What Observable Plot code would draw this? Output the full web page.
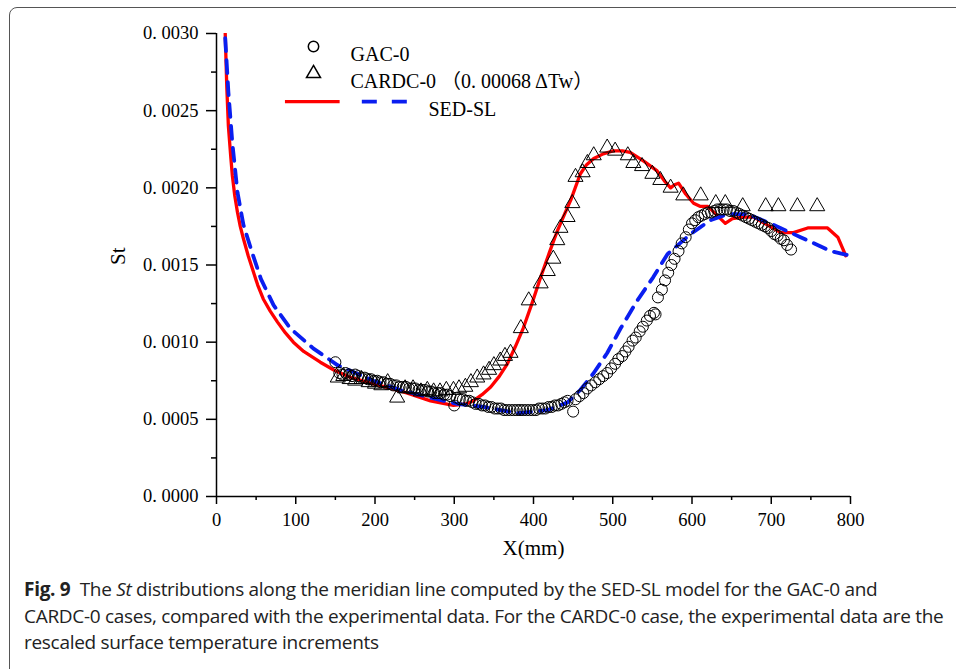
<!DOCTYPE html>
<html>
<head>
<meta charset="utf-8">
<script src="https://cdn.jsdelivr.net/npm/d3@7"></script>
<script src="https://cdn.jsdelivr.net/npm/@observablehq/plot@0.6"></script>
<style>
  html, body { margin: 0; padding: 0; background: #fff; width: 956px; height: 669px; overflow: hidden; }
  #frame { position: absolute; left: 9px; top: 7px; width: 1100px; height: 800px; border: 1.3px solid #555; border-radius: 8px; box-sizing: border-box; }
  #chart { position: absolute; left: 0; top: 0; }
  #chart svg g[aria-label="x-axis tick label"] text,
  #chart svg g[aria-label="y-axis tick label"] text { font-size: 18.5px !important; font-family: 'Liberation Serif', serif !important; }
  #caption { position: absolute; left: 24px; top: 576px; font-family: "Open Sans", sans-serif; font-size: 19px; line-height: 26.5px; color: #222; white-space: nowrap; letter-spacing: -0.3px; }
  #caption b { font-weight: 700; }
</style>
</head>
<body>
<div id="frame"></div>
<div id="chart"></div>
<div id="caption"><b>Fig. 9</b>&nbsp; The <i>St</i> distributions along the meridian line computed by the SED-SL model for the GAC-0 and<br>CARDC-0 cases, compared with the experimental data. For the CARDC-0 case, the experimental data are the<br>rescaled surface temperature increments</div>
<script>
// ---- Data ----
const xMajor = [0, 100, 200, 300, 400, 500, 600, 700, 800];
const xMinor = [50, 150, 250, 350, 450, 550, 650, 750];
const yMajor = [0, 0.0005, 0.001, 0.0015, 0.002, 0.0025, 0.003];
const yMinor = [0.00025, 0.00075, 0.00125, 0.00175, 0.00225, 0.00275];

// GAC-0 experimental (circles)
const gacX = [150,155,159,163,167,171,175,179,183,187,191,195,199,203,207,211,215,219,223,227,231,235,239,243,247,251,255,259,263,267,271,275,279,283,287,291,295,300,303,307,311,315,319,323,327,331,335,339,343,347,351,355,359,363,367,371,375,379,383,387,391,395,399,403,407,411,415,419,423,427,431,435,439,443,450,453,458,463,468,473,478,483,488,493,498,503,507,512,516,520,525,529,534,538,543,547,552,554,557,562,566,570,574,578,583,587,592,596,600,604,608,612,616,620,624,628,632,636,640,644,648,652,656,660,664,668,672,676,680,684,688,692,696,700,704,708,712,716,720,725];
const gacSt = [0.00087,0.00080,0.00079,0.00080,0.00079,0.00078,0.00079,0.00078,0.00077,0.00077,0.00076,0.00076,0.00075,0.00075,0.00074,0.00074,0.00073,0.00073,0.00072,0.00072,0.00071,0.00071,0.00071,0.00070,0.00070,0.00070,0.00069,0.00069,0.00069,0.00068,0.00068,0.00067,0.00067,0.00067,0.00066,0.00066,0.00065,0.00059,0.00064,0.00063,0.00063,0.00062,0.00062,0.00061,0.00060,0.00060,0.00059,0.00059,0.00058,0.00058,0.00057,0.00057,0.00057,0.00056,0.00056,0.00056,0.00056,0.00056,0.00056,0.00056,0.00056,0.00056,0.00056,0.00056,0.00057,0.00057,0.00057,0.00058,0.00058,0.00059,0.00059,0.00060,0.00061,0.00062,0.00055,0.00063,0.00065,0.00067,0.00070,0.00072,0.00074,0.00076,0.00078,0.00080,0.00083,0.00086,0.00089,0.00091,0.00094,0.00097,0.00101,0.00103,0.00107,0.00110,0.00114,0.00117,0.00119,0.00118,0.00129,0.00134,0.00140,0.00145,0.00150,0.00154,0.00159,0.00164,0.00168,0.00173,0.00177,0.00179,0.00181,0.00182,0.00183,0.00184,0.00184,0.00185,0.00186,0.00186,0.00186,0.00186,0.00185,0.00185,0.00184,0.00183,0.00182,0.00181,0.00180,0.00179,0.00178,0.00177,0.00176,0.00175,0.00174,0.00172,0.00170,0.00169,0.00167,0.00166,0.00163,0.00160];

// CARDC-0 experimental (triangles)
const cardcX = [153,160,168,175,183,192,200,208,216,228,238,248,258,266,274,282,290,299,306,314,321,329,337,344,350,358,364,371,384,394,409,418,425,430,434,443,449,453,462,468,476,493,503,519,526,537,550,560,573,589,611,630,642,664,693,709,733,758];
const cardcSt = [0.00077,0.00078,0.00076,0.00075,0.00076,0.00074,0.00073,0.00072,0.00074,0.00064,0.00070,0.00070,0.00068,0.00069,0.00068,0.00068,0.00069,0.00069,0.00070,0.00071,0.00074,0.00077,0.00079,0.00082,0.00085,0.00088,0.00091,0.00093,0.00109,0.00127,0.00138,0.00146,0.00154,0.00166,0.00174,0.00181,0.00190,0.00207,0.00210,0.00216,0.00221,0.00226,0.00224,0.00221,0.00216,0.00214,0.00209,0.00205,0.00200,0.00195,0.00195,0.00190,0.00190,0.00188,0.00188,0.00188,0.00188,0.00188];

// SED-SL, CARDC-0 (red solid)
const redX = [11,13,15,18,20,23,26.5,30,34,40,45,52,59,68,77,87,97,110,131,148,170,198,220,241,270,299,315,324,335,346,357,367,377,387,398,409,420,430,440,447,459,467,476,488,501,512,522,540,556,566,573,578,583,592,602,610,620,632,642,651,665,678,695,712,728,746,771,784,794];
const redSt = [0.00300,0.00265,0.00240,0.00220,0.00208,0.00195,0.00184,0.00175,0.00167,0.00156,0.00148,0.00137,0.00128,0.00120,0.00113,0.00106,0.00100,0.00094,0.00087,0.00082,0.00077,0.00073,0.00070,0.00067,0.00062,0.00059,0.00060,0.00062,0.00066,0.00071,0.00078,0.00086,0.00097,0.00109,0.00125,0.00142,0.00158,0.00172,0.00184,0.00192,0.00209,0.00215,0.00219,0.00222,0.00224,0.00224,0.00223,0.00217,0.00211,0.00204,0.00200,0.00202,0.00203,0.00196,0.00190,0.00188,0.00188,0.00182,0.00177,0.00180,0.00181,0.00181,0.00176,0.00171,0.00171,0.00174,0.00174,0.00168,0.00156];

// SED-SL, GAC-0 (blue dashed)
const blueX = [11,15,20,26.5,34,45,56,72,93,122,153,198,232,270,304,337,380,418,443,459,476,493,510,531,551,569,598,623,645,670,703,737,775,800];
const blueSt = [0.00297,0.00262,0.00229,0.00197,0.00176,0.00158,0.00141,0.00124,0.00109,0.00096,0.00085,0.00075,0.00069,0.00064,0.00060,0.00058,0.00054,0.00056,0.00061,0.00069,0.00080,0.00093,0.00109,0.00127,0.00142,0.00157,0.00170,0.00179,0.00183,0.00183,0.00176,0.00168,0.00159,0.00156];

const legendLabels = ["GAC-0", "CARDC-0 \uFF080. 00068\u2009\u0394Tw\uFF09", "SED-SL"];

// ---- Build tables ----
const gac = gacX.map((x, i) => ({x, y: gacSt[i]}));
const cardc = cardcX.map((x, i) => ({x, y: cardcSt[i]}));
const red = redX.map((x, i) => ({x, y: redSt[i]}));
const blue = blueX.map((x, i) => ({x, y: blueSt[i]}));

const serif = "'Liberation Serif', 'Noto Sans CJK SC', serif";
const fmtY = d => d.toFixed(4).replace(".", ". ");

const chart = Plot.plot({
  width: 956,
  height: 580,
  marginLeft: 216,
  marginRight: 106,
  marginTop: 33,
  marginBottom: 84,
  x: {domain: [0, 800]},
  y: {domain: [0, 0.003]},
  style: {fontFamily: serif, fontSize: "18px", color: "#000", background: "transparent", overflow: "visible"},
  marks: [
    Plot.axisX({ticks: xMajor, tickSize: 8, tickPadding: 8, tickFormat: d => String(d), label: null, strokeWidth: 1.5}),
    Plot.axisX({ticks: xMinor, tickSize: 4, tickFormat: () => "", label: null, strokeWidth: 1.5}),
    Plot.axisY({ticks: yMajor, tickSize: 10, tickPadding: 8, tickFormat: fmtY, label: null, strokeWidth: 1.5}),
    Plot.axisY({ticks: yMinor, tickSize: 5, tickFormat: () => "", label: null, strokeWidth: 1.5}),
    Plot.ruleX([0], {y1: 0, y2: 0.003, stroke: "#000", strokeWidth: 1.5}),
    Plot.ruleY([0], {x1: 0, x2: 800, stroke: "#000", strokeWidth: 1.5}),
    Plot.line(red, {x: "x", y: "y", stroke: "#ff0000", strokeWidth: 3.3, clip: true}),
    Plot.line(blue, {x: "x", y: "y", stroke: "#0a1ef0", strokeWidth: 3.8, strokeDasharray: "13,9", clip: true}),
    Plot.dot(cardc, {x: "x", y: "y", symbol: "triangle", r: 5.6, stroke: "#000", strokeWidth: 1, fill: "none"}),
    Plot.dot(gac, {x: "x", y: "y", symbol: "circle", r: 5.5, stroke: "#000", strokeWidth: 1, fill: "none"}),
    // axis titles
    Plot.text(["X(mm)"], {frameAnchor: "bottom", dy: 58, fontSize: 21, fontFamily: serif}),
    Plot.text(["St"], {frameAnchor: "left", dx: -98, rotate: -90, fontSize: 21, fontFamily: serif}),
    // legend
    Plot.dot([0], {frameAnchor: "top-left", dx: 97, dy: 13, symbol: "circle", r: 5.2, stroke: "#000", fill: "none"}),
    Plot.dot([0], {frameAnchor: "top-left", dx: 97, dy: 40, symbol: "triangle", r: 5.2, stroke: "#000", fill: "none"}),
    Plot.text([legendLabels[0]], {frameAnchor: "top-left", dx: 134, dy: 13, textAnchor: "start", fontSize: 20, fontFamily: serif}),
    Plot.text([legendLabels[1]], {frameAnchor: "top-left", dx: 134, dy: 40, textAnchor: "start", fontSize: 20, fontFamily: serif}),
    Plot.text([legendLabels[2]], {frameAnchor: "top-left", dx: 212, dy: 68, textAnchor: "start", fontSize: 20, fontFamily: serif}),
    Plot.ruleY([0.002558], {x1: 87, x2: 156, stroke: "#ff0000", strokeWidth: 3.3}),
    Plot.ruleY([0.002558], {x1: 184, x2: 241, stroke: "#0a1ef0", strokeWidth: 3.8, strokeDasharray: "15,15"})
  ]
});
document.getElementById("chart").appendChild(chart);
</script>
</body>
</html>
